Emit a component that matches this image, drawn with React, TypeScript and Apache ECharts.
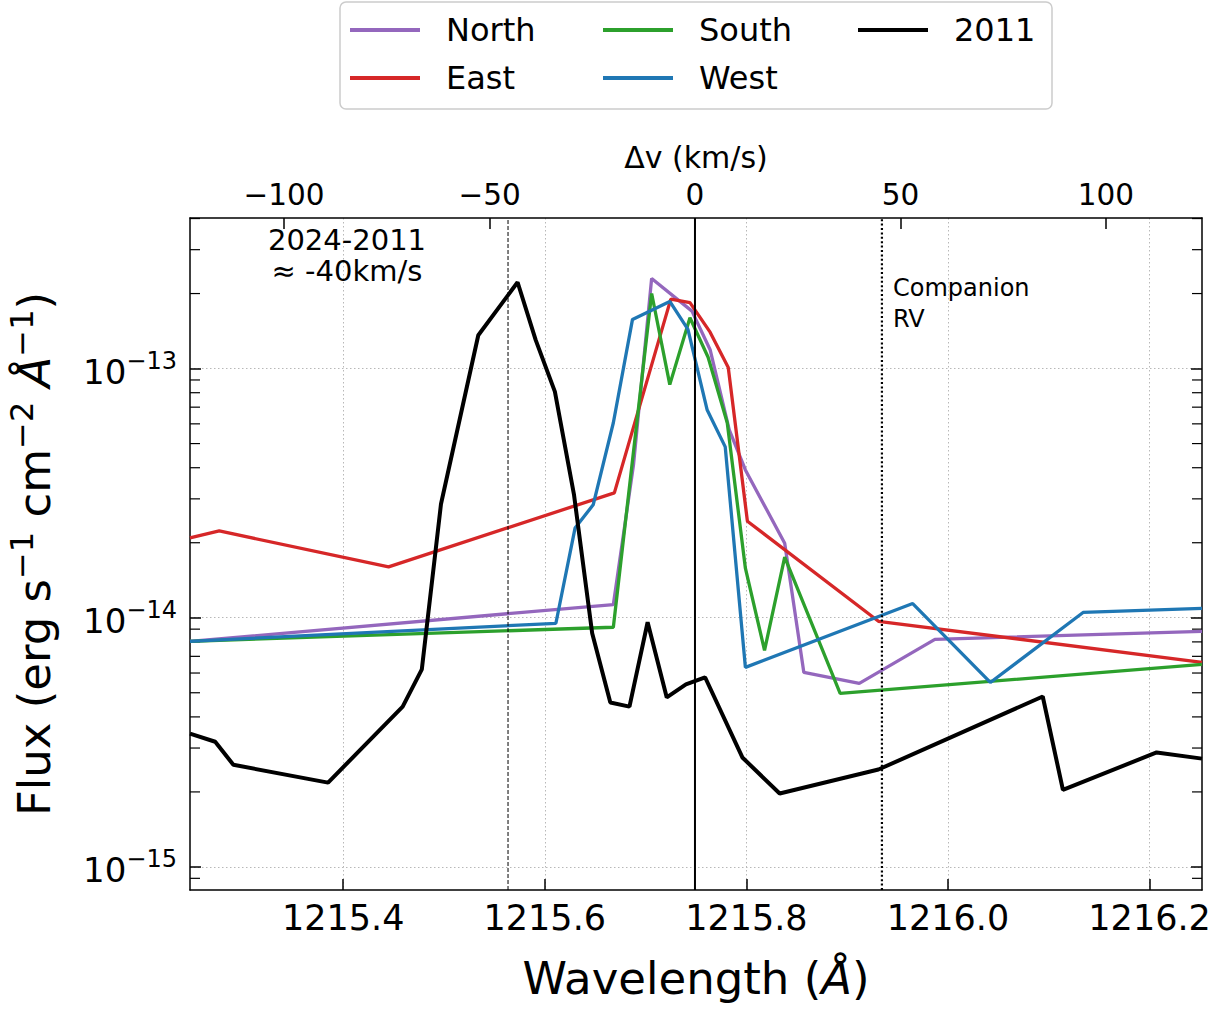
import React, { useEffect, useRef } from 'react';
import * as echarts from 'echarts';

const FONT = '"DejaVu Sans", "Noto Sans", sans-serif';

// Spectra: wavelength (Å) and flux (erg s^-1 cm^-2 Å^-1)
const northWave = [1215.248, 1215.668, 1215.688, 1215.706, 1215.746, 1215.764, 1215.783, 1215.799, 1215.838, 1215.857, 1215.912, 1215.987, 1216.252];
const northFlux = [8.04e-15, 1.13e-14, 4.11e-14, 2.30e-13, 1.70e-13, 1.19e-13, 5.68e-14, 3.92e-14, 1.99e-14, 6.03e-15, 5.45e-15, 8.19e-15, 8.82e-15];

const eastWave = [1215.248, 1215.277, 1215.445, 1215.669, 1215.725, 1215.744, 1215.764, 1215.782, 1215.801, 1215.931, 1216.252];
const eastFlux = [2.09e-14, 2.23e-14, 1.60e-14, 3.17e-14, 1.90e-13, 1.84e-13, 1.40e-13, 1.01e-13, 2.44e-14, 9.68e-15, 6.62e-15];

const southWave = [1215.248, 1215.668, 1215.706, 1215.724, 1215.744, 1215.762, 1215.781, 1215.799, 1215.818, 1215.838, 1215.893, 1216.252];
const southFlux = [8.04e-15, 9.16e-15, 2.00e-13, 8.62e-14, 1.60e-13, 1.11e-13, 6.06e-14, 1.58e-14, 7.40e-15, 1.75e-14, 4.97e-15, 6.50e-15];

const westWave = [1215.248, 1215.611, 1215.630, 1215.648, 1215.668, 1215.687, 1215.724, 1215.742, 1215.761, 1215.779, 1215.799, 1215.965, 1216.042, 1216.134, 1216.252];
const westFlux = [8.04e-15, 9.50e-15, 2.29e-14, 2.84e-14, 6.06e-14, 1.575e-13, 1.86e-13, 1.435e-13, 6.84e-14, 4.85e-14, 6.32e-15, 1.14e-14, 5.50e-15, 1.05e-14, 1.09e-14];

const wave2011 = [1215.248, 1215.273, 1215.291, 1215.385, 1215.459, 1215.478, 1215.497, 1215.534, 1215.573, 1215.591, 1215.610, 1215.629, 1215.647, 1215.665, 1215.684, 1215.702, 1215.721, 1215.740, 1215.759, 1215.796, 1215.833, 1215.931, 1216.094, 1216.114, 1216.207, 1216.252];
const flux2011 = [3.43e-15, 3.18e-15, 2.57e-15, 2.18e-15, 4.40e-15, 6.21e-15, 2.86e-14, 1.36e-13, 2.22e-13, 1.30e-13, 8.08e-14, 3.11e-14, 8.66e-15, 4.57e-15, 4.40e-15, 9.59e-15, 4.79e-15, 5.40e-15, 5.77e-15, 2.75e-15, 1.97e-15, 2.46e-15, 4.83e-15, 2.04e-15, 2.88e-15, 2.72e-15];

// Axis ticks
const wavelengthTicks = [1215.4, 1215.6, 1215.8, 1216.0, 1216.2];
const velocityTicks = [-100, -50, 0, 50, 100];
const fluxTicks = [1e-15, 1e-14, 1e-13];
const minorMultipliers = [2, 3, 4, 5, 6, 7, 8, 9];
const minorDecades = [-16, -15, -14, -13];

// Axis ranges
const WAVE_MIN = 1215.248;
const WAVE_MAX = 1216.252;
const VEL_MIN = -122.9;
const VEL_MAX = 123.4;
const FLUX_MIN = 8.08e-16;
const FLUX_MAX = 4.02e-13;

// Reference velocities (km/s)
const restVelocity = 0;
const shiftVelocity = -45.5;
const companionVelocity = 45.5;

const COLORS = {
  North: '#9467bd',
  East: '#d62728',
  South: '#2ca02c',
  West: '#1f77b4',
  '2011': '#000000',
};

const minorFluxTicks: number[] = [];
minorDecades.forEach((d) => {
  minorMultipliers.forEach((m) => {
    const v = Number(`${m}e${d}`);
    if (v > FLUX_MIN && v < FLUX_MAX) minorFluxTicks.push(v);
  });
});

const pairs = (w: number[], f: number[]) => w.map((x, i) => [x, f[i]]);

const minusFmt = (v: number) => (v < 0 ? '\u2212' + Math.abs(v) : String(v));

const powerFmt = (v: number) => {
  const e = Math.round(Math.log10(v));
  return `{b|10}{s|${e < 0 ? '\u2212' : ''}${Math.abs(e)}}`;
};

const spine = { show: true, onZero: false, lineStyle: { color: '#000', width: 1.5 } };
const TICK_LEN = 11;
const MINOR_LEN = 10;

export default function App() {
  const ref = useRef<HTMLDivElement>(null);

  useEffect(() => {
    document.body.style.margin = '0';
    if (!ref.current) return;
    const chart = echarts.init(ref.current, null, { renderer: 'svg' });

    const lineSeries = (name: string, w: number[], f: number[], width: number) => ({
      name,
      type: 'line',
      xAxisIndex: 0,
      yAxisIndex: 0,
      data: pairs(w, f),
      symbol: 'none',
      showSymbol: false,
      silent: true,
      lineStyle: { color: COLORS[name as keyof typeof COLORS], width },
      itemStyle: { color: COLORS[name as keyof typeof COLORS] },
    });

    const vLine = (v: number, type: any, width: number) => ({
      type: 'line',
      xAxisIndex: 1,
      yAxisIndex: 0,
      data: [
        [v, FLUX_MIN],
        [v, FLUX_MAX],
      ],
      symbol: 'none',
      silent: true,
      lineStyle: { color: '#000', width, type },
    });

    const legendBase = {
      orient: 'vertical',
      top: 14,
      icon: 'rect',
      itemWidth: 70,
      itemHeight: 4,
      itemGap: 16,
      padding: 0,
      selectedMode: false,
      z: 10,
      textStyle: {
        fontSize: 32,
        lineHeight: 32,
        color: '#000',
        fontFamily: FONT,
        padding: [0, 0, 0, 21],
      },
    };

    const option: any = {
      animation: false,
      backgroundColor: '#fff',
      textStyle: { fontFamily: FONT },
      grid: { left: 190, top: 218, width: 1012, height: 672, outerBoundsMode: 'none' },
      legend: [
        { ...legendBase, left: 350, data: ['North', 'East'] },
        { ...legendBase, left: 603, data: ['South', 'West'] },
        { ...legendBase, left: 858, data: ['2011'] },
      ],
      graphic: [
        {
          type: 'rect',
          z: 0,
          shape: { x: 340, y: 2, width: 712, height: 107, r: 6 },
          style: { fill: 'rgba(255,255,255,0.8)', stroke: '#cccccc', lineWidth: 1.5 },
        },
        {
          type: 'text',
          x: 347,
          y: 224,
          z: 10,
          style: {
            text: '2024-2011\n\u2248 -40km/s',
            fontSize: 29,
            lineHeight: 31,
            fontFamily: FONT,
            fill: '#000',
            align: 'center',
            verticalAlign: 'top',
          },
        },
        {
          type: 'text',
          x: 893,
          y: 272,
          z: 10,
          style: {
            text: 'Companion\nRV',
            fontSize: 24,
            lineHeight: 31,
            fontFamily: FONT,
            fill: '#000',
            align: 'left',
            verticalAlign: 'top',
          },
        },
      ],
      xAxis: [
        {
          type: 'value',
          position: 'bottom',
          min: WAVE_MIN,
          max: WAVE_MAX,
          axisLine: spine,
          axisTick: {
            show: true,
            inside: true,
            length: TICK_LEN,
            customValues: wavelengthTicks,
            lineStyle: { color: '#000', width: 1.5 },
          },
          axisLabel: {
            customValues: wavelengthTicks,
            formatter: (v: number) => v.toFixed(1),
            fontSize: 35,
            lineHeight: 35,
            color: '#000',
            fontFamily: FONT,
            margin: 10,
          },
          splitLine: { show: true, lineStyle: { color: '#b8b8b8', width: 1, type: [1.5, 2.5] } },
          name: 'Wavelength ({it|Å})',
          nameLocation: 'middle',
          nameGap: 66,
          nameTextStyle: {
            fontSize: 45,
            color: '#000',
            fontFamily: FONT,
            rich: { it: { fontSize: 45, fontStyle: 'italic', fontFamily: FONT, color: '#000' } },
          },
        },
        {
          type: 'value',
          position: 'top',
          min: VEL_MIN,
          max: VEL_MAX,
          axisLine: spine,
          axisTick: {
            show: true,
            inside: true,
            length: TICK_LEN,
            customValues: velocityTicks,
            lineStyle: { color: '#000', width: 1.5 },
          },
          axisLabel: {
            customValues: velocityTicks,
            formatter: minusFmt,
            fontSize: 29.5,
            color: '#000',
            fontFamily: FONT,
            margin: 8,
          },
          splitLine: { show: false },
          name: 'Δv (km/s)',
          nameLocation: 'middle',
          nameGap: 46,
          nameTextStyle: { fontSize: 30, color: '#000', fontFamily: FONT },
        },
      ],
      yAxis: [
        {
          type: 'log',
          logBase: 10,
          position: 'left',
          min: FLUX_MIN,
          max: FLUX_MAX,
          axisLine: spine,
          axisTick: {
            show: true,
            inside: true,
            length: TICK_LEN,
            customValues: fluxTicks,
            lineStyle: { color: '#000', width: 1.5 },
          },
          axisLabel: {
            customValues: fluxTicks,
            formatter: powerFmt,
            margin: 13,
            color: '#000',
            fontFamily: FONT,
            rich: {
              b: { fontSize: 34, lineHeight: 40, verticalAlign: 'bottom', fontFamily: FONT, color: '#000' },
              s: { fontSize: 24, lineHeight: 26, verticalAlign: 'top', fontFamily: FONT, color: '#000' },
            },
          },
          splitLine: { show: true, lineStyle: { color: '#b8b8b8', width: 1, type: [1.5, 2.5] } },
          name: 'Flux (erg s{sup|\u22121} cm{sup|\u22122} {it|Å}{sup|\u22121})',
          nameLocation: 'middle',
          nameRotate: 90,
          nameGap: 128,
          nameTextStyle: {
            fontSize: 45,
            lineHeight: 56,
            color: '#000',
            fontFamily: FONT,
            rich: {
              sup: { fontSize: 32, lineHeight: 32, verticalAlign: 'top', fontFamily: FONT, color: '#000' },
              it: { fontSize: 45, lineHeight: 56, fontStyle: 'italic', fontFamily: FONT, color: '#000' },
            },
          },
        },
        {
          type: 'log',
          logBase: 10,
          position: 'right',
          min: FLUX_MIN,
          max: FLUX_MAX,
          axisLine: spine,
          axisTick: {
            show: true,
            inside: true,
            length: TICK_LEN,
            customValues: fluxTicks,
            lineStyle: { color: '#000', width: 1.5 },
          },
          axisLabel: { show: false },
          splitLine: { show: false },
        },
      ],
      series: [
        lineSeries('North', northWave, northFlux, 3.3),
        lineSeries('East', eastWave, eastFlux, 3.3),
        lineSeries('South', southWave, southFlux, 3.3),
        lineSeries('West', westWave, westFlux, 3.3),
        lineSeries('2011', wave2011, flux2011, 4),
        vLine(restVelocity, 'solid', 2),
        vLine(shiftVelocity, [4, 2], 1),
        vLine(companionVelocity, [2, 2.4], 2.2),
        {
          type: 'custom',
          xAxisIndex: 0,
          yAxisIndex: 0,
          silent: true,
          clip: false,
          data: minorFluxTicks.map((v) => [WAVE_MIN, v]),
          encode: { x: 0, y: 1 },
          renderItem: (params: any, api: any) => {
            const cs = params.coordSys;
            const y = api.coord([api.value(0), api.value(1)])[1];
            const style = { stroke: '#000', lineWidth: 1.2 };
            return {
              type: 'group',
              children: [
                { type: 'line', shape: { x1: cs.x, y1: y, x2: cs.x + MINOR_LEN, y2: y }, style },
                {
                  type: 'line',
                  shape: { x1: cs.x + cs.width, y1: y, x2: cs.x + cs.width - MINOR_LEN, y2: y },
                  style,
                },
              ],
            };
          },
        },
      ],
    };

    chart.setOption(option);
    return () => chart.dispose();
  }, []);

  return <div ref={ref} style={{ width: 1225, height: 1009 }} />;
}
